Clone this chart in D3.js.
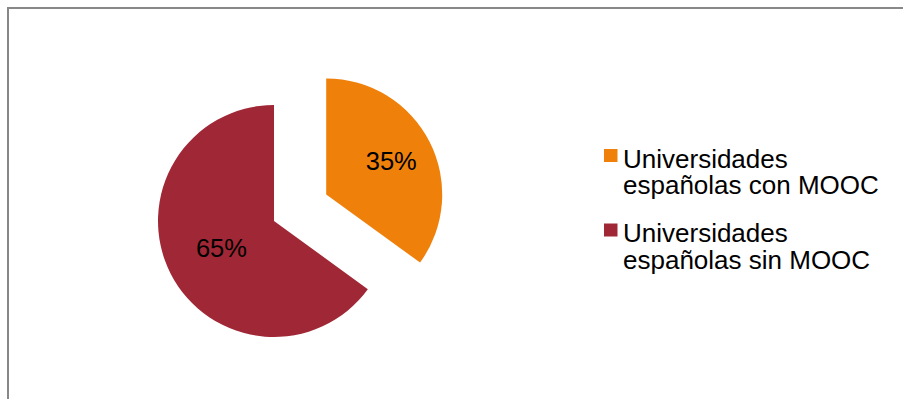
<!DOCTYPE html>
<html><head><meta charset="utf-8">
<script src="https://cdn.jsdelivr.net/npm/d3@7"></script>
<style>body{margin:0;background:#fff}svg{display:block}</style>
</head><body>
<svg id="c" width="903" height="399"></svg>
<script>
const categories = ["Universidades españolas con MOOC", "Universidades españolas sin MOOC"];
const legendLines = [["Universidades", "españolas con MOOC"], ["Universidades", "españolas sin MOOC"]];
const values = [35, 65];
const labels = ["35%", "65%"];
const colors = ["#EF810B", "#A02836"];

const svg = d3.select("#c");
const font = "'Liberation Sans', Arial, sans-serif";

// frame
svg.append("path").attr("d", "M8,420 V8 H920").attr("fill", "none")
  .attr("stroke", "#888").attr("stroke-width", 2);

const cx = 274, cy = 221, R = 116;
const explode = [58.6, 0];
const labelR = [73, 59];

const pie = d3.pie().sort(null).value(d => d).startAngle(0).endAngle(2 * Math.PI);
const arcs = pie(values);
const arc = d3.arc().innerRadius(0).outerRadius(R);

const g = svg.append("g").attr("transform", `translate(${cx},${cy})`);
arcs.forEach((a, i) => {
  const mid = (a.startAngle + a.endAngle) / 2;
  const dx = Math.sin(mid) * explode[i], dy = -Math.cos(mid) * explode[i];
  const sg = g.append("g").attr("transform", `translate(${dx},${dy})`);
  sg.append("path").attr("d", arc(a)).attr("fill", colors[i]);
  const lr = labelR[i];
  sg.append("text")
    .attr("x", Math.sin(mid) * lr).attr("y", -Math.cos(mid) * lr)
    .attr("dy", "0.35em").attr("text-anchor", "middle")
    .attr("font-family", font).attr("font-size", 25.5).attr("fill", "#000")
    .text(labels[i]);
});

// legend
const lg = svg.append("g");
categories.forEach((c, i) => {
  const y0 = 149 + i * 74.5;
  lg.append("rect").attr("x", 604).attr("y", y0).attr("width", 13.5).attr("height", 13)
    .attr("fill", colors[i]);
  const t = lg.append("text").attr("font-family", font).attr("font-size", 26).attr("fill", "#000");
  legendLines[i].forEach((ln, j) => {
    t.append("tspan").attr("x", 623).attr("y", y0 + 18.5 + j * 26.5).text(ln);
  });
});
</script>
</body></html>
